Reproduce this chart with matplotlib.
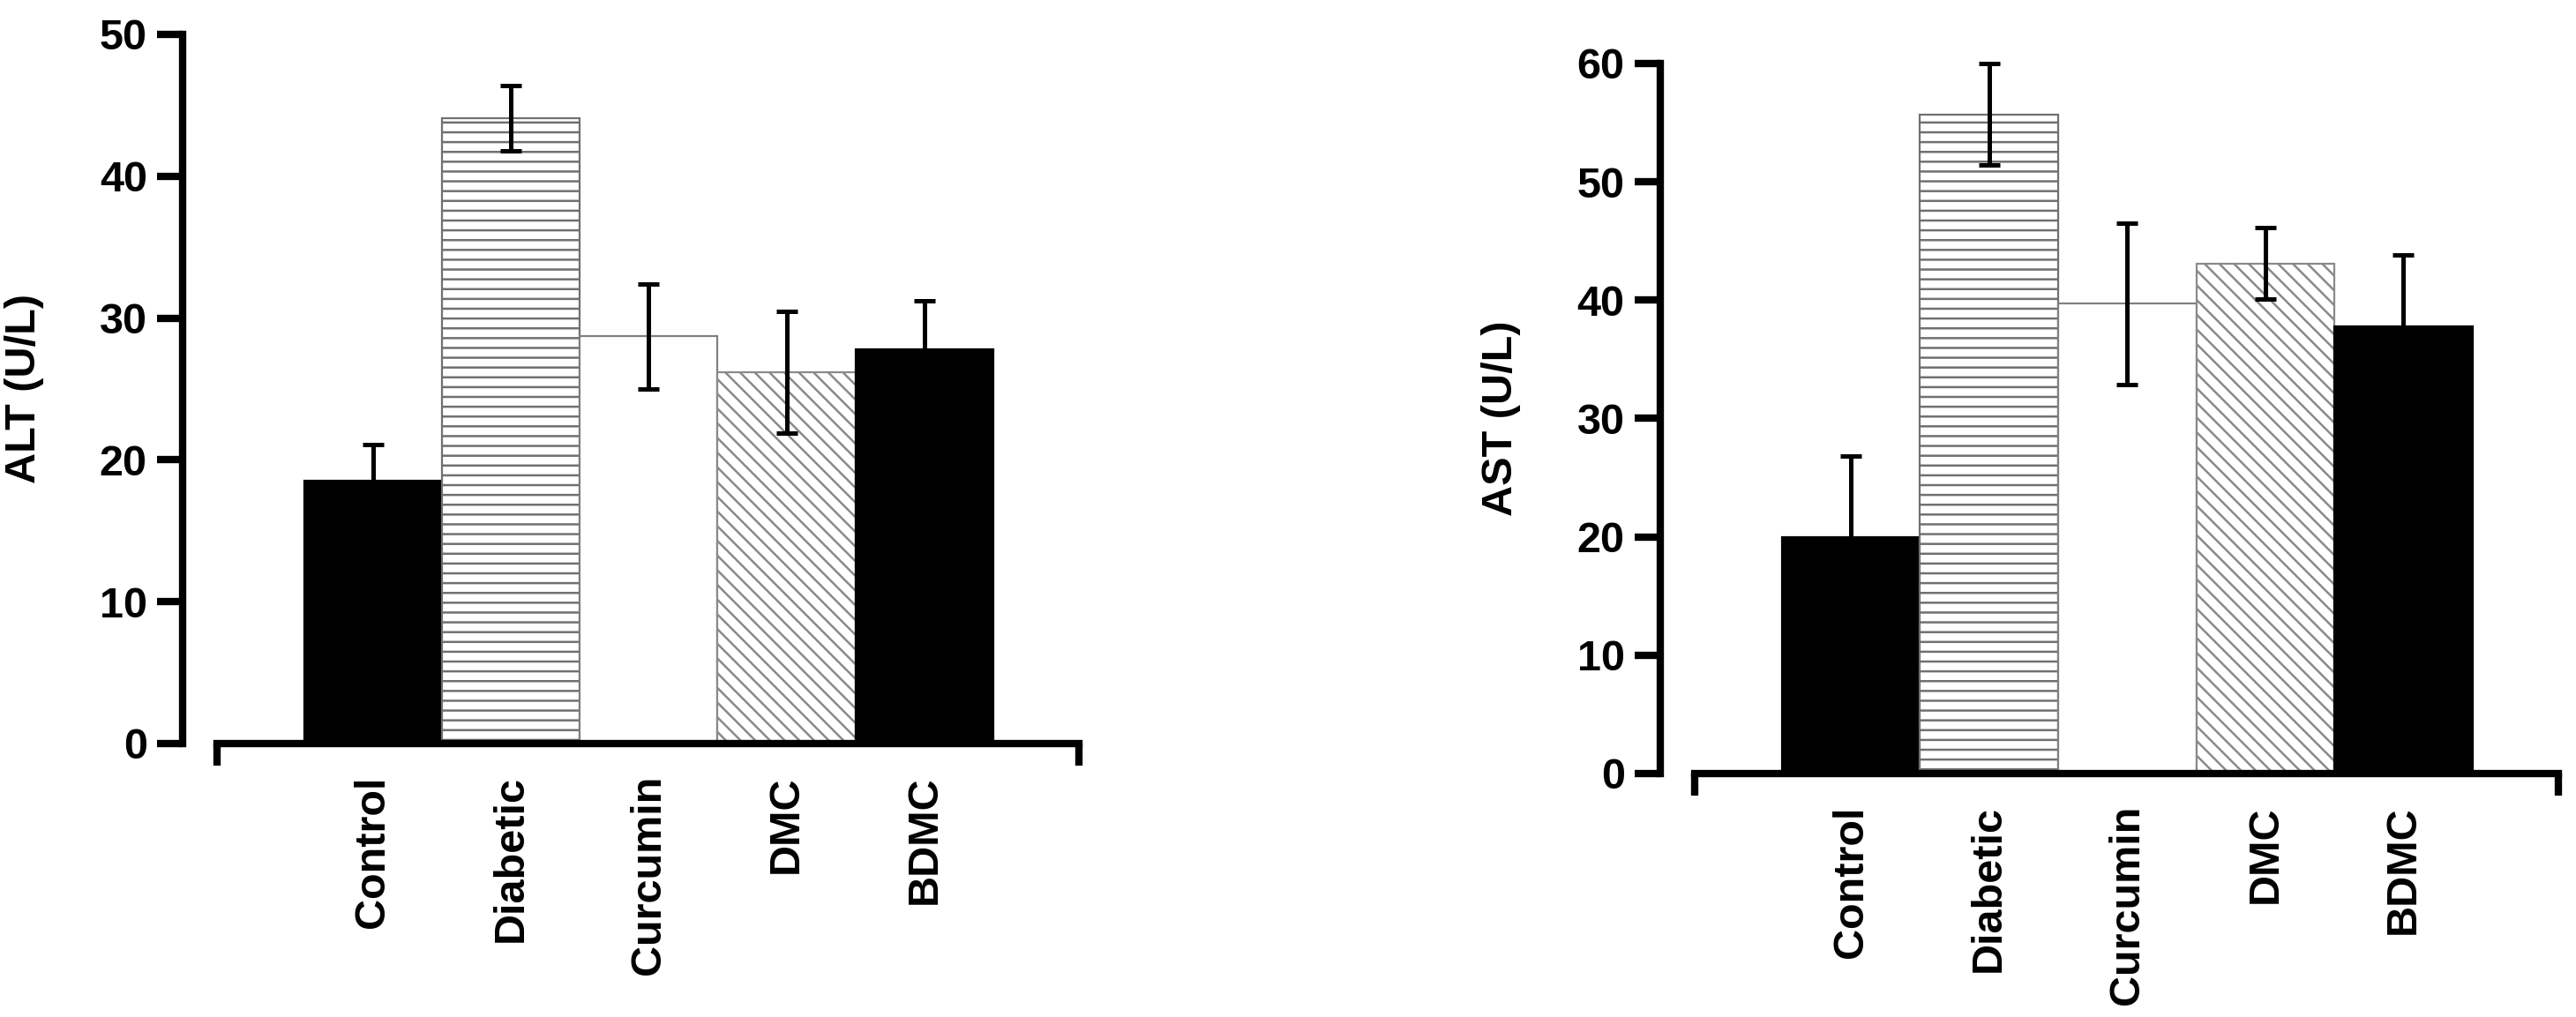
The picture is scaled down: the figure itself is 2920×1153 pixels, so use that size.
import matplotlib
matplotlib.use("Agg")
import matplotlib.pyplot as plt
import numpy as np

plt.rcParams['font.family'] = ['Liberation Sans', 'DejaVu Sans']
plt.rcParams['font.weight'] = 'bold'
plt.rcParams['hatch.linewidth'] = 0.9

# Data
groups = ["Control", "Diabetic", "Curcumin", "DMC", "BDMC"]
alt_mean = [18.5, 44.1, 28.7, 26.2, 27.8]
alt_err = [2.6, 2.3, 3.7, 4.3, 3.4]
ast_mean = [20.0, 55.7, 39.7, 43.1, 37.8]
ast_err = [6.8, 4.3, 6.8, 3.0, 6.0]

# bar styles: face, edge, hatch
faces = ["black", "white", "white", "white", "black"]
edges = ["black", "#707070", "#808080", "#8a8a8a", "black"]
hatches = [None, "---", None, "\\\\\\\\", None]

fig = plt.figure(figsize=(14.6, 5.765), dpi=200)
ax1 = fig.add_axes([0.0709, 0.2689, 0.3479, 0.6973])
ax2 = fig.add_axes([0.6445, 0.2394, 0.3486, 0.6982])

x = np.arange(len(groups))
LW = 3.0


def draw(ax, means, errs, ymax, ylabel):
    for i in range(len(groups)):
        ax.bar(x[i], means[i], width=1.0, color=faces[i], edgecolor=edges[i],
               linewidth=0.8, hatch=hatches[i], zorder=1)
    ax.errorbar(x, means, yerr=errs, fmt='none', ecolor='black', elinewidth=1.8,
                capsize=4.2, capthick=1.8, zorder=3, clip_on=False)
    ax.set_xlim(-1.38, 5.12)
    ax.set_ylim(0, ymax)
    ax.set_yticks(np.arange(0, ymax + 1, 10))
    ax.spines['top'].set_visible(False)
    ax.spines['right'].set_visible(False)
    ax.spines['left'].set_linewidth(LW)
    ax.spines['bottom'].set_linewidth(LW)
    ax.spines['bottom'].set_bounds(-1.13, 5.12)
    ax.spines['left'].set_zorder(4)
    ax.spines['bottom'].set_zorder(4)
    ax.tick_params(axis='y', direction='out', length=10.5, width=LW, pad=4,
                   labelsize=17.5)
    ax.set_xticks(x)
    ax.set_xticklabels(groups, rotation=90, fontsize=17.5, fontweight='bold',
                       va='top', ha='center')
    ax.tick_params(axis='x', which='major', length=0, pad=13)
    ax.set_xticks([-1.13, 5.12], minor=True)
    ax.tick_params(axis='x', which='minor', direction='out', length=9, width=LW)
    for lab in ax.get_yticklabels():
        lab.set_fontweight('bold')
    ax.set_ylabel(ylabel, fontsize=17.5, fontweight='bold')
    ax.yaxis.set_label_coords(-0.155, 0.5)


draw(ax1, alt_mean, alt_err, 50, "ALT (U/L)")
draw(ax2, ast_mean, ast_err, 60, "AST (U/L)")

fig.savefig("out.png", dpi=200, facecolor="white")
